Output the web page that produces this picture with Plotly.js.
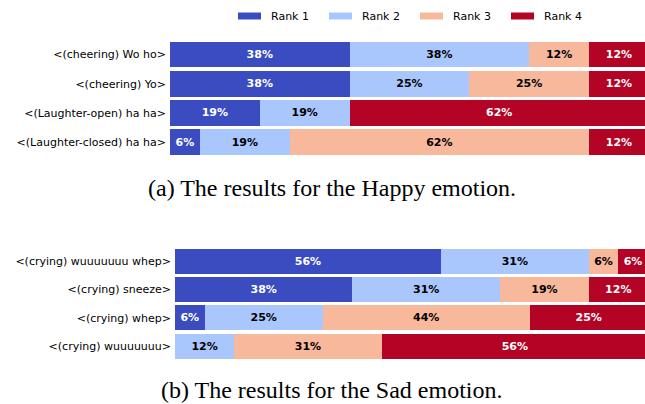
<!DOCTYPE html>
<html>
<head>
<meta charset="utf-8">
<script src="https://cdn.plot.ly/plotly-3.0.1.min.js"></script>
<style>html,body{margin:0;padding:0;background:#fff;}#chart{width:645px;height:404px;}</style>
</head>
<body>
<div id="chart"></div>
<script>
// ---- data ----
const rankNames = ["Rank 1", "Rank 2", "Rank 3", "Rank 4"];
const rankColors = ["#3b4cc0", "#aac7fd", "#f7b89c", "#b40426"];
const rankTextColors = ["#ffffff", "#000000", "#000000", "#ffffff"];

const happyCategories = ["<(cheering) Wo ho>", "<(cheering) Yo>", "<(Laughter-open) ha ha>", "<(Laughter-closed) ha ha>"];
const happyRank1 = [37.5, 37.5, 18.75, 6.25];
const happyRank2 = [37.5, 25, 18.75, 18.75];
const happyRank3 = [12.5, 25, 0, 62.5];
const happyRank4 = [12.5, 12.5, 62.5, 12.5];

const sadCategories = ["<(crying) wuuuuuuu whep>", "<(crying) sneeze>", "<(crying) whep>", "<(crying) wuuuuuuu>"];
const sadRank1 = [56.25, 37.5, 6.25, 0];
const sadRank2 = [31.25, 31.25, 25, 12.5];
const sadRank3 = [6.25, 18.75, 43.75, 31.25];
const sadRank4 = [6.25, 12.5, 25, 56.25];

const captionA = "(a) The results for the Happy emotion.";
const captionB = "(b) The results for the Sad emotion.";

// ---- helpers ----
function roundHalfEven(v) {
  const f = Math.floor(v);
  const d = v - f;
  if (Math.abs(d - 0.5) < 1e-9) return (f % 2 === 0) ? f : f + 1;
  return Math.round(v);
}
function labels(arr) { return arr.map(v => v > 0 ? roundHalfEven(v) + "%" : ""); }

const happySeries = [happyRank1, happyRank2, happyRank3, happyRank4];
const sadSeries = [sadRank1, sadRank2, sadRank3, sadRank4];

const traces = [];
function addGroup(series, cats, xa, ya) {
  series.forEach((vals, i) => {
    traces.push({
      type: "bar",
      orientation: "h",
      name: rankNames[i],
      x: vals,
      y: cats,
      xaxis: xa,
      yaxis: ya,
      marker: { color: rankColors[i], line: { width: 0 } },
      text: labels(vals),
      textposition: "inside",
      insidetextanchor: "middle",
      textangle: 0,
      constraintext: "none",
      textfont: { family: "DejaVu Sans", size: 11, color: rankTextColors[i], weight: "bold" },
      hoverinfo: "skip",
      showlegend: false
    });
  });
}
addGroup(happySeries, happyCategories, "x", "y");
addGroup(sadSeries, sadCategories, "x2", "y2");

const H = 404, W = 645;

// legend drawn as paper-space keys (matplotlib-style wide patches)
const shapes = [];
const annotations = [];
rankNames.forEach((name, i) => {
  const x0 = 238 + 91 * i;
  shapes.push({ type: "rect", xref: "paper", yref: "paper", x0: x0 / W, x1: (x0 + 23) / W, y0: 1 - 19.5 / H, y1: 1 - 12.5 / H, fillcolor: rankColors[i], line: { width: 0 } });
  annotations.push({ text: name, xref: "paper", yref: "paper", x: (x0 + 31) / W, y: 1 - 16 / H, xanchor: "left", yanchor: "middle", showarrow: false, font: { family: "DejaVu Sans", size: 11, color: "#000" } });
});
annotations.push({ text: captionA, xref: "paper", yref: "paper", x: 332 / W, y: 1 - 188 / H, xanchor: "center", yanchor: "middle", showarrow: false, font: { family: "Liberation Serif", size: 24, color: "#000" } });
annotations.push({ text: captionB, xref: "paper", yref: "paper", x: 331 / W, y: 1 - 390 / H, xanchor: "center", yanchor: "middle", showarrow: false, font: { family: "Liberation Serif", size: 24, color: "#000" } });

const layout = {
  width: W, height: H,
  margin: { l: 0, r: 0, t: 0, b: 0 },
  paper_bgcolor: "#fff",
  plot_bgcolor: "#fff",
  barmode: "stack",
  bargap: 0.12,
  showlegend: false,
  font: { family: "DejaVu Sans", size: 11, color: "#000" },
  // the original figure is cropped slightly at its right edge
  xaxis: { domain: [170 / W, 1], range: [0, 99.2], visible: false, fixedrange: true },
  yaxis: { domain: [1 - 156.65 / H, 1 - 39.85 / H], autorange: "reversed", ticks: "", ticklabelstandoff: 3, showline: false, showgrid: false, zeroline: false, tickfont: { size: 11, color: "#000" }, anchor: "x" },
  xaxis2: { domain: [175 / W, 1], range: [0, 99.4], visible: false, fixedrange: true, anchor: "y2" },
  yaxis2: { domain: [1 - 360.4 / H, 1 - 246.8 / H], autorange: "reversed", ticks: "", ticklabelstandoff: 3, showline: false, showgrid: false, zeroline: false, tickfont: { size: 11, color: "#000" }, anchor: "x2" },
  shapes: shapes,
  annotations: annotations
};

Plotly.newPlot("chart", traces, layout, { displayModeBar: false, staticPlot: true });
</script>
</body>
</html>
